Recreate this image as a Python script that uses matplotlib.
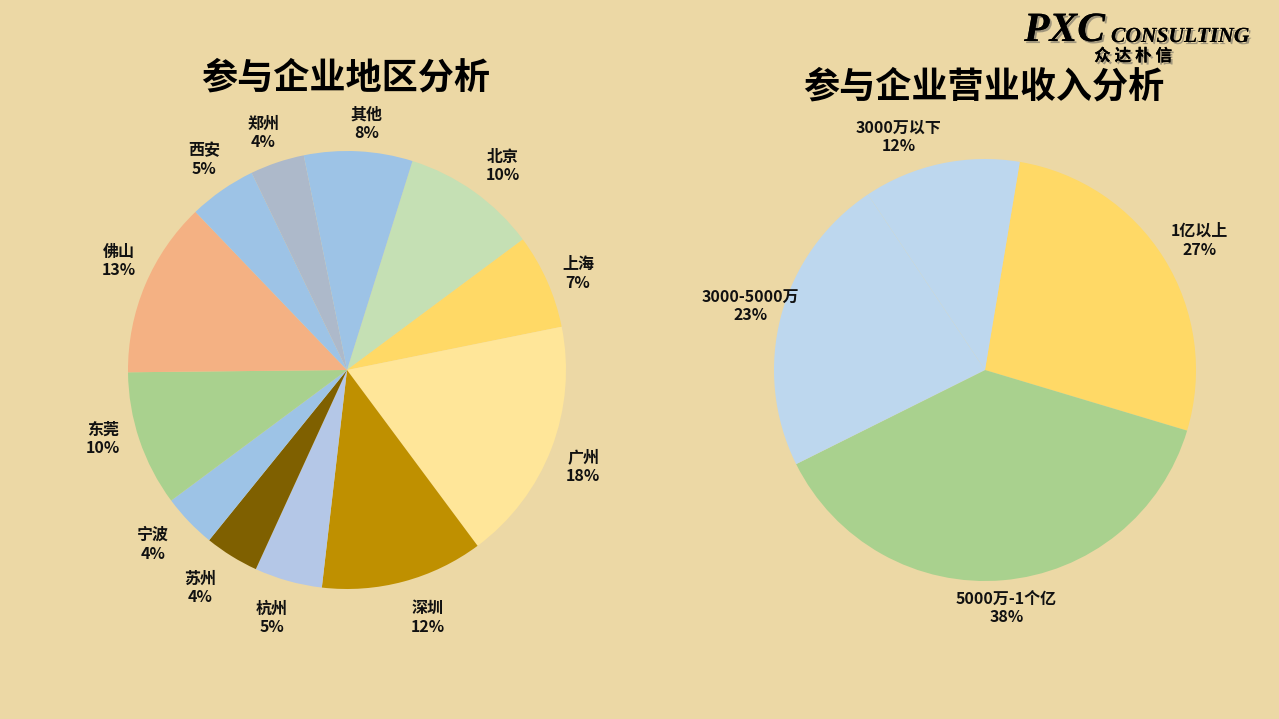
import matplotlib.pyplot as plt
import matplotlib.patheffects as pe

plt.rcParams['font.family'] = ['Noto Sans CJK SC', 'DejaVu Sans']

# Region data (clockwise from first slice)
regions = ['北京', '上海', '广州', '深圳', '杭州', '苏州', '宁波', '东莞', '佛山', '西安', '郑州', '其他']
region_pct = [10, 7, 18, 12, 5, 4, 4, 10, 13, 5, 4, 8]
region_colors = ['#C5E0B4', '#FFD966', '#FFE699', '#BF9000', '#B4C7E7', '#7F6000',
                 '#9DC3E6', '#A9D18E', '#F4B183', '#9DC3E6', '#ADB9CA', '#9DC3E6']

# Revenue data
revenue = ['1亿以上', '5000万-1个亿', '3000-5000万', '3000万以下']
revenue_pct = [27, 38, 23, 12]
revenue_colors = ['#FFD966', '#A9D18E', '#BDD7EE', '#BDD7EE']

W, H = 1279, 719
bg = '#ECD8A5'
fig = plt.figure(figsize=(W / 100, H / 100), dpi=100)
fig.patch.set_facecolor(bg)


def pie_axes(cx, cy, r):
    ax = fig.add_axes([(cx - r) / W, (H - cy - r) / H, 2 * r / W, 2 * r / H])
    ax.axis('off')
    return ax


def draw_pie(ax, names, vals, colors, start, dist, r_px, nudge):
    labels = [f'{n}\n{v}%' for n, v in zip(names, vals)]
    wedges, texts = ax.pie(vals, colors=colors, labels=labels, startangle=start,
                           counterclock=False, radius=1, labeldistance=dist,
                           wedgeprops=dict(linewidth=0),
                           textprops=dict(fontsize=11.5, fontweight='bold', color='#111111'))
    for t in texts:
        t.set_ha('center')
        t.set_va('center')
        t.set_linespacing(1.2)
        dx, dy = nudge.get(t.get_text().split('\n')[0], (0, 0))
        x, y = t.get_position()
        t.set_position((x + dx / r_px, y - dy / r_px))
    ax.set_xlim(-1, 1)
    ax.set_ylim(-1, 1)
    ax.set_aspect('equal')
    return wedges


# small label nudges in pixels (Excel label placement)
left_nudge = {'其他': (6, 10), '北京': (7, 5), '深圳': (14, 0), '苏州': (-12, 0),
              '东莞': (-1, -13), '上海': (-3, 8), '佛山': (8, -10), '广州': (-3, 5),
              '宁波': (-9, -3), '杭州': (-6, 1), '郑州': (-2, 6), '西安': (3, 0)}
right_nudge = {'3000万以下': (-34, 10), '5000万-1个亿': (0, -10), '3000-5000万': (6, 0),
               '1亿以上': (3, 2)}

ax1 = pie_axes(347, 370, 219)
draw_pie(ax1, regions, region_pct, region_colors, 90 - 17.4, 1.17, 219, left_nudge)

ax2 = pie_axes(985, 370, 211)
draw_pie(ax2, revenue, revenue_pct, revenue_colors, 90 - 9.5, 1.18, 211, right_nudge)

# titles
fig.text(346 / W, 1 - 78 / H, '参与企业地区分析', ha='center', va='center',
         fontsize=26, fontweight='bold', color='#000000')
fig.text(984 / W, 1 - 87 / H, '参与企业营业收入分析', ha='center', va='center',
         fontsize=26, fontweight='bold', color='#000000')

# logo
shadow = [pe.withSimplePatchShadow(offset=(1.5, -1.5), shadow_rgbFace='#555555', alpha=0.5), pe.Normal()]
fig.text(1024 / W, 1 - 31 / H, 'PXC', ha='left', va='center', fontsize=30,
         family='Liberation Serif', style='italic', fontweight='bold', path_effects=shadow)
fig.text(1111 / W, 1 - 37 / H, 'CONSULTING', ha='left', va='center', fontsize=15.5,
         family='Liberation Serif', style='italic', fontweight='bold', path_effects=shadow)
fig.text(1133 / W, 1 - 56 / H, '众 达 朴 信', ha='center', va='center', fontsize=12,
         fontweight='bold', path_effects=shadow)

fig.savefig('out.png', dpi=100, facecolor=bg)
